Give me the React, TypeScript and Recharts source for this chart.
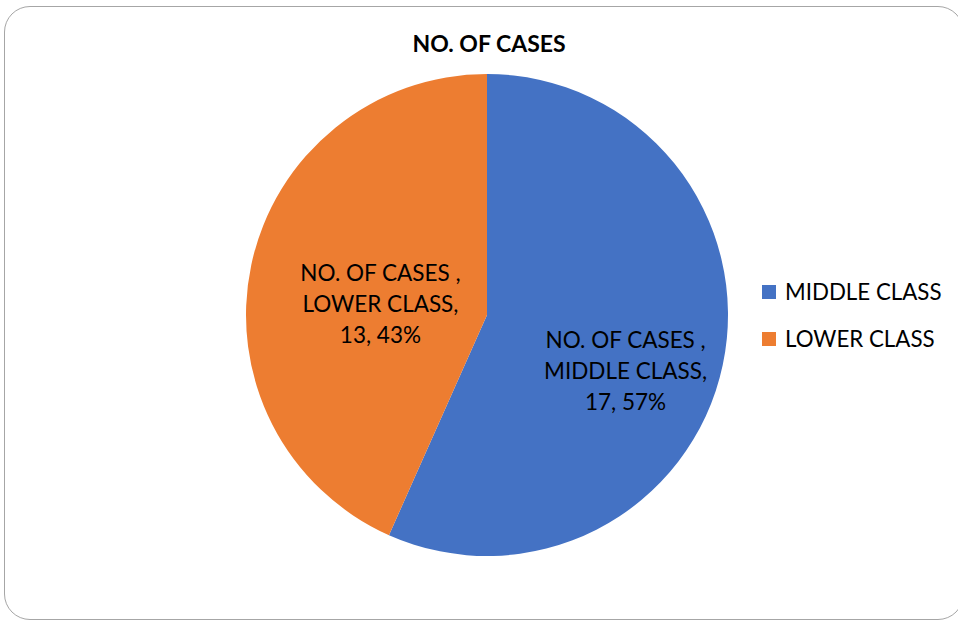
import { PieChart, Pie, Cell, Legend } from "recharts";

const categories = ["MIDDLE CLASS", "LOWER CLASS"];
const cases = [17, 13];
const colors = ["#4472C4", "#ED7D31"];
const seriesName = "NO. OF CASES";

const data = categories.map((name, i) => ({ name, value: cases[i] }));
const total = cases.reduce((s, v) => s + v, 0);

const FONT = "Lato, 'Open Sans', sans-serif";
const RAD = Math.PI / 180;

// data labels sit on an ellipse inside the pie, nudged down-right
function SliceLabel(props: any) {
  const { cx, cy, midAngle, outerRadius, name, value } = props;
  const rx = outerRadius * 0.52;
  const ry = outerRadius * 0.67;
  const x = cx + rx * Math.cos(-midAngle * RAD) + 16;
  const y = cy + ry * Math.sin(-midAngle * RAD) + 22;
  const pct = Math.round((value / total) * 100);
  const lines = [`${seriesName} ,`, `${name},`, `${value}, ${pct}%`];
  return (
    <text
      x={x}
      y={y}
      textAnchor="middle"
      fill="#000"
      style={{ fontFamily: FONT, fontSize: 22.5 }}
    >
      {lines.map((l, i) => (
        <tspan key={i} x={x} y={y + (i - 1) * 31} dominantBaseline="central">
          {l}
        </tspan>
      ))}
    </text>
  );
}

function LegendContent() {
  return (
    <div style={{ fontFamily: FONT, fontSize: 22.3, color: "#000" }}>
      {categories.map((c, i) => (
        <div key={c} style={{ display: "flex", alignItems: "center", height: 47 }}>
          <span
            style={{
              display: "inline-block",
              width: 14,
              height: 14,
              background: colors[i],
              marginRight: 9,
            }}
          />
          {c}
        </div>
      ))}
    </div>
  );
}

export default function App() {
  return (
    <div style={{ position: "absolute", left: 0, top: 0, width: 958, height: 623, background: "#fff" }}>
      <div
        style={{
          position: "absolute",
          left: 4,
          top: 6,
          width: 960,
          height: 614,
          border: "1px solid #a6a6a6",
          borderRadius: 26,
          boxSizing: "border-box",
        }}
      />
      <div
        style={{
          position: "absolute",
          left: 0,
          top: 29,
          width: 978,
          textAlign: "center",
          fontFamily: FONT,
          fontWeight: 700,
          fontSize: 23,
          color: "#000",
        }}
      >
        {seriesName}
      </div>
      <div style={{ position: "absolute", left: 0, top: 0 }}>
        <PieChart width={958} height={623} margin={{ top: 0, right: 0, bottom: 0, left: 0 }}>
          <Pie
            data={data}
            dataKey="value"
            nameKey="name"
            cx={487}
            cy={315}
            outerRadius={241}
            startAngle={90}
            endAngle={-270}
            stroke="none"
            label={SliceLabel}
            labelLine={false}
            isAnimationActive={false}
          >
            {data.map((d, i) => (
              <Cell key={d.name} fill={colors[i]} />
            ))}
          </Pie>
          <Legend
            content={<LegendContent />}
            wrapperStyle={{ position: "absolute", left: 762, top: 268, width: 196 }}
          />
        </PieChart>
      </div>
    </div>
  );
}
